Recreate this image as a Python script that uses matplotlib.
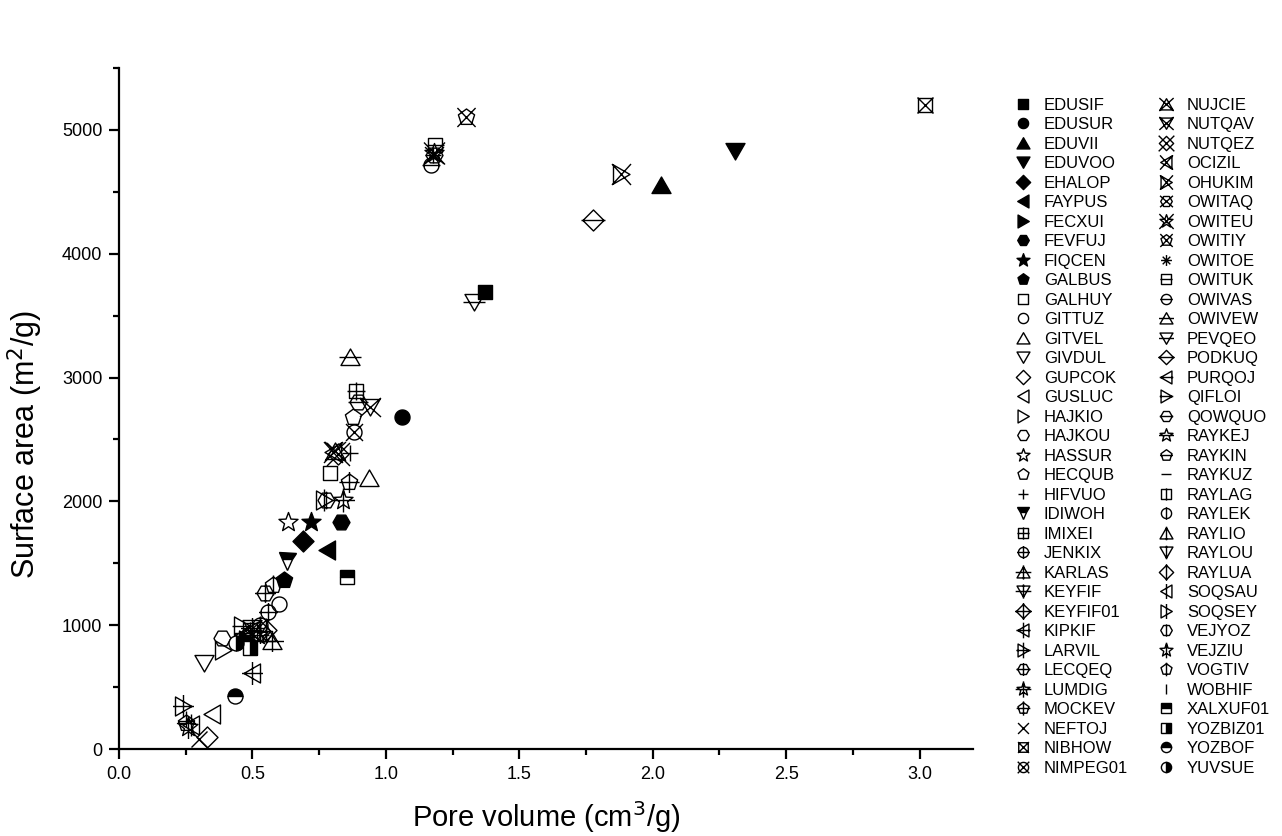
import numpy as np
import matplotlib
matplotlib.use("Agg")
import matplotlib.pyplot as plt
from matplotlib.path import Path

plt.rcParams['font.family'] = ['Liberation Sans', 'DejaVu Sans']

# ---- data -------------------------------------------------------------
names = [
    "EDUSIF", "EDUSUR", "EDUVII", "EDUVOO", "EHALOP", "FAYPUS", "FECXUI", "FEVFUJ", "FIQCEN", "GALBUS",
    "GALHUY", "GITTUZ", "GITVEL", "GIVDUL", "GUPCOK", "GUSLUC", "HAJKIO", "HAJKOU", "HASSUR", "HECQUB",
    "HIFVUO", "IDIWOH", "IMIXEI", "JENKIX", "KARLAS", "KEYFIF", "KEYFIF01", "KIPKIF", "LARVIL", "LECQEQ",
    "LUMDIG", "MOCKEV", "NEFTOJ", "NIBHOW", "NIMPEG01",
    "NUJCIE", "NUTQAV", "NUTQEZ", "OCIZIL", "OHUKIM", "OWITAQ", "OWITEU", "OWITIY", "OWITOE", "OWITUK",
    "OWIVAS", "OWIVEW", "PEVQEO", "PODKUQ", "PURQOJ", "QIFLOI", "QOWQUO", "RAYKEJ", "RAYKIN", "RAYKUZ",
    "RAYLAG", "RAYLEK", "RAYLIO", "RAYLOU", "RAYLUA", "SOQSAU", "SOQSEY", "VEJYOZ", "VEJZIU", "VOGTIV",
    "WOBHIF", "XALXUF01", "YOZBIZ01", "YOZBOF", "YUVSUE",
]
pore_volume = [
    1.37, 1.06, 2.03, 2.31, 0.69, 0.78, 0.48, 0.83, 0.72, 0.62,
    0.79, 0.60, 0.935, 0.32, 0.33, 0.35, 0.39, 0.385, 0.635, 0.875,
    0.865, 0.63, 0.888, 0.558, 0.572, 0.50, 0.53, 0.497, 0.24, 0.547,
    0.84, 0.862, 0.30, 3.02, 0.88,
    0.81, 0.94, 0.82, 0.80, 1.882, 1.18, 1.18, 1.30, 1.175, 1.183,
    1.17, 0.865, 1.33, 1.776, 0.50, 0.46, 0.895, 0.52, 0.25, 0.25,
    0.49, 0.53, 0.55, 0.47, 0.55, 0.27, 0.77, 0.775, 0.26, 0.577,
    0.25, 0.853, 0.49, 0.434, 0.44,
]
surface_area = [
    3690, 2680, 4555, 4830, 1680, 1605, 880, 1830, 1830, 1365,
    2230, 1175, 2190, 695, 100, 285, 800, 895, 1834, 2685,
    2390, 1515, 2890, 1110, 870, 980, 950, 615, 350, 1260,
    2010, 2160, 80, 5200, 2560,
    2410, 2760, 2380, 2400, 4640, 4800, 4810, 5105, 4800, 4880,
    4720, 3165, 3610, 4275, 960, 990, 2800, 920, 210, 230,
    960, 1000, 940, 870, 960, 190, 2010, 2010, 180, 1325,
    240, 1389, 815, 431, 855,
]

# ---- marker geometry (units: pixels) -----------------------------------
def poly(n, r, rot=90.0):
    a = np.deg2rad(rot + 360.0 / n * np.arange(n))
    return np.c_[r * np.cos(a), r * np.sin(a)]

def star_pts(r, ri):
    out = []
    for i in range(10):
        ang = np.deg2rad(90 + 36 * i)
        rr = r if i % 2 == 0 else ri
        out.append((rr * np.cos(ang), rr * np.sin(ang)))
    return np.array(out)

base = {
    "square": np.array([[-7, -7], [7, -7], [7, 7], [-7, 7]], float),
    "circle": poly(40, 7.5),
    "up": np.array([[-9.5, -8], [9.5, -8], [0, 8.5]], float),
    "down": np.array([[-9.5, 8], [9.5, 8], [0, -8.5]], float),
    "diamond": np.array([[0, 10.5], [10.5, 0], [0, -10.5], [-10.5, 0]], float),
    "left": np.array([[8, 9.5], [8, -9.5], [-8.5, 0]], float),
    "right": np.array([[-8, 9.5], [-8, -9.5], [8.5, 0]], float),
    "hexagon": poly(6, 8.5, 0),
    "star": star_pts(10, 4.2),
    "pentagon": poly(5, 8.5, 90),
}
shape_order = ["square", "circle", "up", "down", "diamond", "left", "right", "hexagon", "star", "pentagon"]

def closed(pts):
    verts = np.vstack([pts, pts[:1]])
    codes = [Path.MOVETO] + [Path.LINETO] * (len(pts) - 1) + [Path.CLOSEPOLY]
    return verts, codes

def segs(lines):
    verts, codes = [], []
    for (a, b) in lines:
        verts += [a, b]
        codes += [Path.MOVETO, Path.LINETO]
    return verts, codes

def build(shape, deco=None):
    pts = base[shape]
    v, c = closed(pts)
    v = list(map(tuple, v))
    c = list(c)
    ex, ey = np.abs(pts).max(axis=0)
    lines = []
    if deco == "plus":
        lines = [((-ex - 2, 0), (ex + 2, 0)), ((0, -ey - 2), (0, ey + 2))]
    elif deco == "x":
        lines = [((-ex - 1, -ey - 1), (ex + 1, ey + 1)), ((-ex - 1, ey + 1), (ex + 1, -ey - 1))]
    elif deco == "h":
        lines = [((-ex - 1.5, 0), (ex + 1.5, 0))]
    elif deco == "v":
        lines = [((0, -ey - 1.5), (0, ey + 1.5))]
    lv, lc = segs(lines)
    v += lv
    c += lc
    return Path(np.array(v, float), c)

def line_marker(kind):
    r = 8.0
    if kind == "plus":
        lines = [((-r, 0), (r, 0)), ((0, -r), (0, r))]
    elif kind == "x":
        lines = [((-r, -r), (r, r)), ((-r, r), (r, -r))]
    elif kind == "ast":
        lines = [((-r, 0), (r, 0)), ((0, -r), (0, r)),
                 ((-0.7 * r, -0.7 * r), (0.7 * r, 0.7 * r)), ((-0.7 * r, 0.7 * r), (0.7 * r, -0.7 * r))]
    elif kind == "hline":
        lines = [((-r, 0), (r, 0)), ((0, -r), (0, -r))]
    else:
        lines = [((0, -r), (0, r)), ((-r, 0), (-r, 0))]
    v, c = segs(lines)
    return Path(np.array(v, float), c)

PX2PT = 72.0 / 100.0

def ms_for(path):
    return 2 * np.abs(path.vertices).max() * PX2PT

styles = []
for s in shape_order:
    styles.append(dict(marker=build(s), mfc="black"))
for s in shape_order:
    styles.append(dict(marker=build(s), mfc="none"))
styles.append(dict(marker=line_marker("plus"), mfc="none"))
styles.append(dict(marker="v", mfc="black", fillstyle="top", std=17))
for s in shape_order:
    styles.append(dict(marker=build(s, "plus"), mfc="none"))
styles.append(dict(marker=line_marker("x"), mfc="none"))
for s in shape_order:
    styles.append(dict(marker=build(s, "x"), mfc="none"))
styles.append(dict(marker=line_marker("ast"), mfc="none"))
for s in shape_order:
    styles.append(dict(marker=build(s, "h"), mfc="none"))
styles.append(dict(marker=line_marker("hline"), mfc="none"))
for s in shape_order:
    styles.append(dict(marker=build(s, "v"), mfc="none"))
styles.append(dict(marker=line_marker("vline"), mfc="none"))
styles.append(dict(marker="s", mfc="black", fillstyle="top", std=14))
styles.append(dict(marker="s", mfc="black", fillstyle="right", std=14))
styles.append(dict(marker="o", mfc="black", fillstyle="top", std=15))
styles.append(dict(marker="o", mfc="black", fillstyle="right", std=15))

# ---- figure -----------------------------------------------------------
W, H = 1282, 836
fig = plt.figure(figsize=(W / 100, H / 100), dpi=100)
ax = fig.add_axes([119 / W, 1 - 749 / H, (973 - 119) / W, (749 - 68) / H])

handles = []
for name, xv, yv, st in zip(names, pore_volume, surface_area, styles):
    mk = st["marker"]
    ms = ms_for(mk) if isinstance(mk, Path) else st["std"] * PX2PT
    kw = dict(marker=mk, ls="none", ms=ms, mec="black", mew=1.0, color="black",
              mfc=st["mfc"])
    if "fillstyle" in st:
        kw["fillstyle"] = st["fillstyle"]
        kw["markerfacecoloralt"] = "white"
    h, = ax.plot([xv], [yv], label=name, clip_on=False, **kw)
    handles.append(h)

ax.set_xlim(0, 3.2)
ax.set_ylim(0, 5500)
ax.set_xticks(np.arange(0, 3.01, 0.5))
ax.set_xticks(np.arange(0.25, 3.2, 0.5), minor=True)
ax.set_yticks(np.arange(0, 5001, 1000))
ax.set_yticks(np.arange(500, 5501, 1000), minor=True)
ax.set_xticklabels([f"{v:.1f}" for v in np.arange(0, 3.01, 0.5)])
ax.tick_params(which="major", direction="out", length=7, width=1.6, labelsize=13, pad=5)
ax.tick_params(which="minor", direction="out", length=4, width=1.6)
for side in ("top", "right"):
    ax.spines[side].set_visible(False)
for side in ("left", "bottom"):
    ax.spines[side].set_linewidth(1.6)

ax.set_xlabel("Pore volume (cm$^3$/g)", fontsize=21, labelpad=12)
ax.set_ylabel("Surface area (m$^2$/g)", fontsize=22)
# axis title placed in figure pixels (x is the label's right edge)
ax.yaxis.set_label_coords((45 - 119) / (973 - 119), (749 - 444) / (749 - 68))

leg = fig.legend(handles=handles, loc="upper left", bbox_to_anchor=(1008 / W, 1 - 91 / H),
                 ncol=2, frameon=False, fontsize=12, markerscale=0.68,
                 handlelength=1.0, handletextpad=0.75, columnspacing=1.78,
                 labelspacing=0.27, borderaxespad=0.0)

fig.savefig("out.png", dpi=100)
